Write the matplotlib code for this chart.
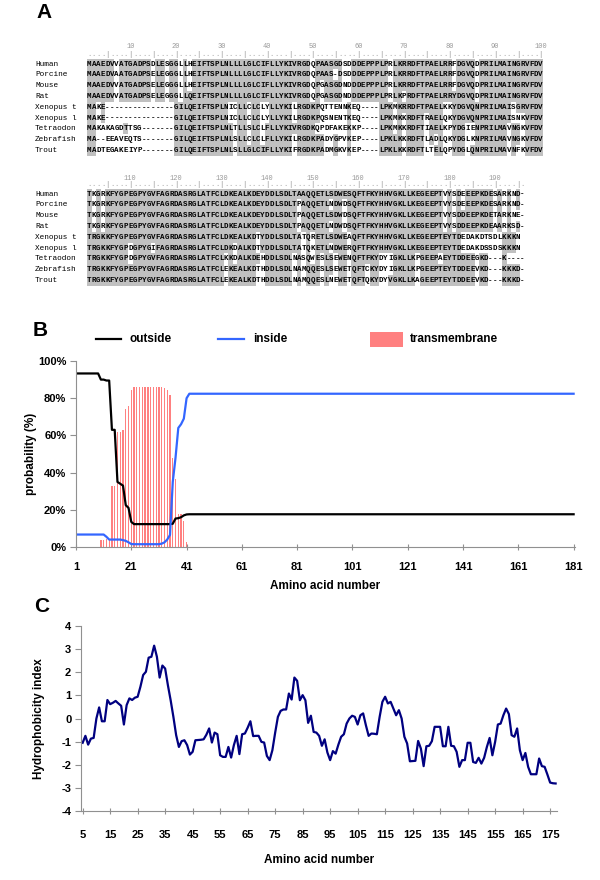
# Figura: alineamiento (A), topologia TMHMM (B) e hidrofobicidad (C)

import numpy as np
import matplotlib.pyplot as plt
from matplotlib.patches import Rectangle
from collections import Counter

plt.rcParams['font.family'] = ['Liberation Sans', 'DejaVu Sans']

# %% Datos panel A: alineamiento de secuencias
species = ['Human', 'Porcine', 'Mouse', 'Rat', 'Xenopus t', 'Xenopus l',
           'Tetraodon', 'Zebrafish', 'Trout']

seq_block1 = [
    'MAAEDVVATGADPSDLESGGLLHEIFTSPLNLLLLGLCIFLLYKIVRGDQPAASGDSDDDEPPPLPRLKRRDFTPAELRRFDGVQDPRILMAINGRVFDV',
    'MAAEDVAATGADPSELEGGGLLHEIFTSPLNLLLLGLCIFLLYKIVRGDQPAAS-DSDDDEPPPLPRLKRRDFTPAELRRFDGVQDPRILMAINGRVFDV',
    'MAAEDVVATGADPSELEGGGLLHEIFTSPLNLLLLGLCIFLLYKIVRGDQPGASGDNDDDEPPPLPRLKRRDFTPAELRRFDGVQDPRILMAINGRVFDV',
    'MAAEDVVATGADPSELEGGGLLQEIFTSPLNLLLLGLCIFLLYKIVRGDQPGASGDNDDDEPPPLPRLKPRDFTPAELRRYDGVQDPRILMAINGRVFDV',
    'MAKE---------------GILQEIFTSPLNICLLCLCLYLLYKILRGDKPQTTENNKEQ----LPKMKRRDFTPAELKKYDGVQNPRILMAISGRVFDV',
    'MAKE---------------GILQEIFTSPLNICLLCLCLYLLYKILRGDKPQSNENTKEQ----LPKMKKRDFTRAELQKYDGVQNPRILMAISNKVFDV',
    'MAKAKAGDTTSG-------GILQEIFTSPLNLTLLSLCLFLLYKIVRGDKQPDFAKEKKP----LPKMKKRDFTIAELKPYDGIENPRILMAVNGKVFDV',
    'MA--EEAVEQTS-------GILQEIFTSPLNLSLLCLCLFLLYKILRGDKPADYGPVKEP----LPKLKKRDFTLADLQKYDGLKNPRILMAVNGKVFDV',
    'MADTEGAKEIYP-------GILQEIFTSPLNLSLLGLCIFLLYKIFRGDKPADMGKVKEP----LPKLKKRDFTLTELQPYDGLQNPRILMAVNFKVFDV',
]

seq_block2 = [
    'TKGRKFYGPEGPYGVFAGRDASRGLATFCLDKEALKDEYDDLSDLTAAQQETLSDWESQFTFKYHHVGKLLKEGEEPTVYSDEEEPKDESARKND-',
    'TKGRKFYGPEGPYGVFAGRDASRGLATFCLDKEALKDEYDDLSDLTPAQQETLNDWDSQFTFKYHHVGKLLKEGEEPTVYSDEEEPKDESARKND-',
    'TKGRKFYGPEGPYGVFAGRDASRGLATFCLDKEALKDEYDDLSDLTPAQQETLSDWDSQFTFKYHHVGKLLKEGEEPTVYSDDEEPKDETARKNE-',
    'TKGRKFYGPEGPYGVFAGRDASRGLATFCLDKEALKDEYDDLSDLTPAQQETLNDWDSQFTFKYHHVGKLLKEGEEPTVYSDDEEPKDEAARKSD-',
    'TRGKKFYGPEGPYGVFAGRDASRGLATFCLDKEALKDTYDDLSDLTATQRETLSDWEAQFTFKYHHVGKLLKEGEEPTEYTDEDAKDTSDLKKKN',
    'TRGKKFYGPDGPYGIFAGRDASRGLATFCLDKDALKDTYDDLSDLTATQKETLNDWERQFTFKYHHVGKLLKEGEEPTEYTDEDAKDSSDSKKKN',
    'TRGKKFYGPDGPYGVFAGRDASRGLATFCLKKDALKDEHDDLSDLNASQWESLSEWENQFTFKYDYIGKLLKPGEEPAEYTDDEEGKD---K----',
    'TRGKKFYGPEGPYGVFAGRDASRGLATFCLEKEALKDTHDDLSDLNAMQQESLSEWETQFTCKYDYIGKLLKPGEEPTEYTDDEEVKD---KKKD-',
    'TRGKKFYGPEGPYGVFAGRDASRGLATFCLEKEALKDTHDDLSDLNAMQQESLNEWETQFTQKYDYVGKLLKAGEEPTEYTDDEEVKD---KKKD-',
]
block_starts = [1, 101]

# %% Datos panel B: probabilidades por residuo
residues = np.arange(1, 182)
outside = ([93.3] * 9 + [90, 90, 89.5, 89.5, 63, 63, 35, 34, 33, 22.5, 21, 13.5]
           + [12.3] * 14 + [12.5, 15.3, 15.5, 16, 17, 17.5] + [17.6] * 140)
inside = ([6.7] * 11 + [5.5, 4, 4, 4, 4, 4, 3.7, 3.3, 2.5, 1.6]
          + [1.5] * 10 + [1.8, 2.5, 4, 6.5, 35, 48, 64, 66, 69, 80] + [82.4] * 140)
transmembrane = ([0] * 9 + [3.6, 3.6, 4.5, 4.5, 33, 33, 62, 62, 63, 74, 75.6, 84.5]
                 + [86.2] * 11 + [85.3, 84.4, 81.5, 48, 36.7, 18, 18, 14, 2.7] + [0] * 140)

# %% Datos panel C: indice de hidrofobicidad (posiciones 5..177)
hydro = [
    -1.05, -0.75, -1.13, -0.87, -0.84, 0.0, 0.48, -0.12, -0.12, 0.8,
    0.62, 0.68, 0.76, 0.65, 0.55, -0.26, 0.58, 0.87, 0.8, 0.9,
    0.94, 1.37, 1.88, 2.02, 2.63, 2.67, 3.15, 2.67, 1.77, 2.29,
    2.16, 1.44, 0.79, 0.07, -0.72, -1.23, -0.98, -0.94, -1.15, -1.56,
    -1.44, -0.94, -0.93, -0.92, -0.9, -0.7, -0.43, -1.04, -0.61, -0.68,
    -1.59, -1.66, -1.66, -1.23, -1.69, -1.15, -0.75, -1.54, -0.68, -0.65,
    -0.4, -0.12, -0.76, -0.75, -0.75, -1.01, -1.04, -1.62, -1.8, -1.37,
    -0.62, 0.07, 0.33, 0.39, 0.39, 1.08, 0.82, 1.77, 1.63, 0.79,
    1.01, 0.79, -0.19, 0.12, -0.58, -0.61, -0.75, -1.18, -0.9, -1.47,
    -1.8, -1.41, -1.52, -1.13, -0.79, -0.68, -0.22, 0.0, 0.12, 0.07,
    -0.26, 0.14, 0.22, -0.29, -0.75, -0.65, -0.66, -0.68, 0.07, 0.72,
    0.94, 0.65, 0.72, 0.43, 0.14, 0.36, 0.0, -0.79, -1.08, -1.85,
    -1.84, -1.83, -0.97, -1.3, -2.06, -1.2, -1.18, -0.98, -0.36, -0.36,
    -0.36, -1.2, -1.2, -0.36, -1.18, -1.2, -1.44, -2.09, -1.8, -1.8,
    -1.05, -1.05, -1.88, -1.92, -1.7, -1.95, -1.7, -1.23, -0.84, -1.59,
    -1.01, -0.26, -0.22, 0.14, 0.43, 0.19, -0.72, -0.79, -0.43, -1.37,
    -1.8, -1.49, -2.09, -2.41, -2.41, -2.41, -1.73, -2.06, -2.09, -2.42,
    -2.77, -2.8, -2.81,
]
hydro_pos = np.arange(5, 5 + len(hydro))

# %% Figura
fig = plt.figure(figsize=(6, 8.8), dpi=100)
ax_a = fig.add_axes([0, 0, 1, 1])  # capa en pixeles para panel A y textos
ax_a.set_xlim(0, 600)
ax_a.set_ylim(880, 0)
ax_a.axis('off')

mono = 'Liberation Mono'
x0, cw, rh = 87, 4.56, 10.8
block_y = [(47, 55, 64), (178, 185, 194)]  # numeros, regla, primera fila
grey_shade = '#c0c0c0'

for block, start, (y_num, y_rule, y_row) in zip([seq_block1, seq_block2], block_starts, block_y):
    ncol = max(len(s) for s in block)
    rows = [s.ljust(ncol) for s in block]
    # regla superior
    for c in range(ncol):
        pos = start + c
        xc = x0 + (c + 0.5) * cw
        ax_a.text(xc, y_rule, '|' if pos % 5 == 0 else '.', family=mono, fontsize=5,
                  color='#999999', ha='center', va='center')
        if pos % 10 == 0:
            ax_a.text(xc, y_num, str(pos), family=mono, fontsize=5, color='#999999',
                      ha='center', va='center')
    # sombreado de residuos conservados
    for c in range(ncol):
        col = [r[c] for r in rows if r[c] not in '- ']
        if not col:
            continue
        cons, n = Counter(col).most_common(1)[0]
        if n < 4:
            continue
        for i, r in enumerate(rows):
            if r[c] == cons:
                ax_a.add_patch(Rectangle((x0 + c * cw, y_row + i * rh - rh / 2), cw, rh,
                                         facecolor=grey_shade, edgecolor='none'))
    # nombres y letras
    for i, r in enumerate(rows):
        yc = y_row + i * rh
        ax_a.text(35, yc, species[i], family=mono, fontsize=5.6, ha='left', va='center')
        for c, ch in enumerate(r):
            if ch != ' ':
                ax_a.text(x0 + (c + 0.5) * cw, yc, ch, family=mono, fontsize=5.4,
                          fontweight='bold', ha='center', va='center')

# etiquetas de paneles
for lab, (lx, ly) in zip('ABC', [(36, 12), (33, 331), (34, 606)]):
    ax_a.text(lx, ly, lab, fontsize=15, fontweight='bold', ha='left', va='center')

# leyenda del panel B
tm_color = '#ff8080'
blue = '#3366ff'
ax_a.plot([96, 121], [339, 339], color='black', lw=1.6)
ax_a.text(129, 339, 'outside', fontsize=8.5, fontweight='bold', va='center')
ax_a.plot([218, 244], [339, 339], color=blue, lw=1.6)
ax_a.text(253, 339, 'inside', fontsize=8.5, fontweight='bold', va='center')
ax_a.add_patch(Rectangle((370, 332), 33, 15, facecolor=tm_color, edgecolor='none'))
ax_a.text(410, 339, 'transmembrane', fontsize=8.5, fontweight='bold', va='center')

axis_grey = '#909090'


def style_axes(ax, xpad):
    for s in ['top', 'right']:
        ax.spines[s].set_visible(False)
    for s in ['left', 'bottom']:
        ax.spines[s].set_color(axis_grey)
        ax.spines[s].set_linewidth(0.8)
    ax.tick_params(axis='x', direction='inout', length=5, color=axis_grey, pad=xpad)
    ax.tick_params(axis='y', direction='out', length=4, color=axis_grey, pad=3)


# %% Panel B
ax_b = fig.add_axes([76 / 600, 1 - 547 / 880, (575 - 76) / 600, (547 - 361) / 880])
ax_b.bar(residues, transmembrane, width=0.45, color=tm_color, linewidth=0)
ax_b.plot(residues, outside, color='black', lw=1.6)
ax_b.plot(residues, inside, color=blue, lw=1.6)
ax_b.set_xlim(1, 181.5)
ax_b.set_ylim(0, 100)
style_axes(ax_b, 8)
xt = np.arange(1, 182, 20)
ax_b.set_xticks(xt)
ax_b.set_xticklabels([str(v) for v in xt], fontsize=8, fontweight='bold')
yt = np.arange(0, 101, 20)
ax_b.set_yticks(yt)
ax_b.set_yticklabels([f'{v}%' for v in yt], fontsize=8, fontweight='bold')
ax_b.set_xlabel('Amino acid number', fontsize=8.5, fontweight='bold', labelpad=6)
ax_b.set_ylabel('probability (%)', fontsize=8.5, fontweight='bold', labelpad=1)

# %% Panel C
ax_c = fig.add_axes([81 / 600, 1 - 811 / 880, (557 - 81) / 600, (811 - 626) / 880])
ax_c.plot(hydro_pos, hydro, color='#000080', lw=1.6)
ax_c.set_xlim(4.4, 177.5)
ax_c.set_ylim(-4, 4)
style_axes(ax_c, 11)
xt = np.arange(5, 176, 10)
ax_c.set_xticks(xt)
ax_c.set_xticklabels([str(v) for v in xt], fontsize=8, fontweight='bold')
yt = np.arange(-4, 5)
ax_c.set_yticks(yt)
ax_c.set_yticklabels([str(v) for v in yt], fontsize=8, fontweight='bold')
ax_c.set_xlabel('Amino acid number', fontsize=8.5, fontweight='bold', labelpad=10)
ax_c.set_ylabel('Hydrophobicity index', fontsize=8.5, fontweight='bold', labelpad=12)

fig.savefig('out.png', dpi=100)
